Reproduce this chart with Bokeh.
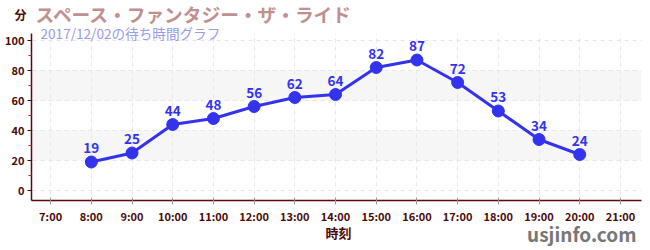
from bokeh.plotting import figure
from bokeh.models import Label, BoxAnnotation, FixedTicker, ColumnDataSource, Range1d
from bokeh.embed import file_html
from bokeh.resources import INLINE
from bokeh.core.properties import value

title = "スペース・ファンタジー・ザ・ライド"
subtitle = "2017/12/02の待ち時間グラフ"
hours = [8, 9, 10, 11, 12, 13, 14, 15, 16, 17, 18, 19, 20]
waits = [19, 25, 44, 48, 56, 62, 64, 82, 87, 72, 53, 34, 24]
tick_hours = list(range(7, 22))
tick_labels = [f"{h}:00" for h in tick_hours]
y_ticks = [0, 20, 40, 60, 80, 100]
y_minor = [10, 30, 50, 70, 90]

FONT = "Noto Sans CJK JP"
DARK = "#4a0a0a"

# plot area in data units
X0, X1 = 6.53, 21.52
Y0, Y1 = -6.67, 104.7
PX_H = 40.7   # pixels per hour
PX_Y = 1.5    # pixels per minute
XS = X0 - 31 / PX_H
YS = -(250 - 190) / PX_Y

p = figure(width=650, height=250, output_backend="svg", toolbar_location=None,
           x_range=Range1d(XS, XS + 650 / PX_H), y_range=Range1d(YS, YS + 250 / PX_Y),
           min_border=0)
p.outline_line_color = None
p.background_fill_color = "white"

for lo, hi in [(20, 40), (60, 80)]:
    p.add_layout(BoxAnnotation(bottom=lo, top=hi, left=X0, right=X1, fill_color="#f6f6f6",
                               fill_alpha=1, line_color=None, level="image"))

p.xgrid.ticker = FixedTicker(ticks=tick_hours)
p.xgrid.grid_line_color = "#e6e6e6"
p.xgrid.grid_line_dash = "4 4"
p.ygrid.ticker = FixedTicker(ticks=y_ticks)
p.ygrid.grid_line_color = "#e6e6e6"
p.ygrid.grid_line_dash = "4 4"

# white covers outside the plot area (hide grid lines there)
for kw in [dict(right=X0), dict(left=X1), dict(bottom=Y1), dict(top=Y0)]:
    p.add_layout(BoxAnnotation(fill_color="white", fill_alpha=1, line_color=None, level="underlay", **kw))

p.xaxis.ticker = FixedTicker(ticks=tick_hours)
p.xaxis.major_label_overrides = {h: l for h, l in zip(tick_hours, tick_labels)}
p.yaxis.ticker = FixedTicker(ticks=y_ticks, minor_ticks=y_minor)
p.xaxis.fixed_location = Y0
p.yaxis.fixed_location = X0
p.xaxis.bounds = (X0, X1)
p.yaxis.bounds = (Y0, Y1)

for ax in (p.xaxis[0], p.yaxis[0]):
    ax.axis_line_color = "#5a0a0a"
    ax.axis_line_width = 1.5
    ax.major_tick_line_color = DARK
    ax.major_tick_out = 4
    ax.major_tick_in = 0
    ax.major_label_text_font = FONT
    ax.major_label_text_font_style = "bold"
    ax.major_label_text_font_size = "11px"
    ax.major_label_text_color = DARK
    ax.major_label_standoff = 3
p.xaxis.minor_tick_line_color = None
p.xaxis.major_tick_in = 3
p.xaxis.major_tick_line_color = "#999999"
p.yaxis.minor_tick_line_color = "#dd2222"
p.yaxis.minor_tick_out = 3
p.yaxis.minor_tick_in = 0

src = ColumnDataSource(dict(x=hours, y=waits, t=[str(v) for v in waits]))
p.line("x", "y", source=src, line_color="#3333ee", line_width=3)
p.scatter("x", "y", source=src, size=12, fill_color="#3333ee", line_color="#3333ee")
p.text("x", "y", text="t", source=src, y_offset=-14, text_align="center", text_baseline="middle",
       text_font=value(FONT), text_font_style="bold", text_font_size="13.5px", text_color="#3333ee")

def lab(text, px, py, size, color, align="left", style="bold"):
    p.add_layout(Label(x=px, y=250 - py, x_units="screen", y_units="screen", text=text,
                       text_font=FONT, text_font_size=size, text_font_style=style,
                       text_color=color, text_align=align, text_baseline="middle", level="overlay"))

lab("分", 20, 14, "12px", DARK, "center")
lab(title, 35, 13, "18.7px", "#c09090")
lab(subtitle, 40, 32, "13.6px", "#9999ee", style="normal")
lab("時刻", 338, 232, "13px", DARK, "center")
lab("usjinfo.com", 636, 233, "19px", "#777777", "right")

open("out.html", "w").write(file_html(p, INLINE))
